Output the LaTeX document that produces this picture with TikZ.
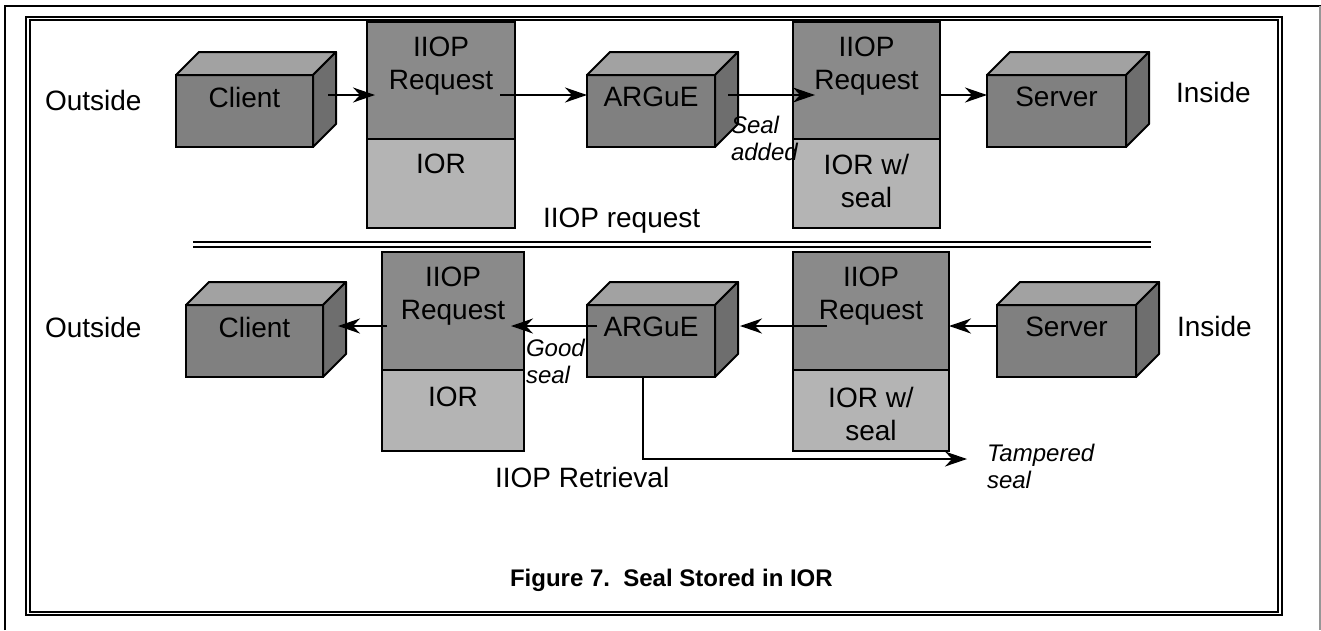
\documentclass[tikz,border=0pt]{standalone}
\usepackage{fontspec}
\setmainfont{Liberation Sans}
\usetikzlibrary{arrows.meta}
\definecolor{facegray}{RGB}{128,128,128}
\definecolor{topgray}{RGB}{162,162,162}
\definecolor{sidegray}{RGB}{110,110,110}
\definecolor{reqgray}{RGB}{138,138,138}
\definecolor{iorgray}{RGB}{180,180,180}
\definecolor{framegray}{RGB}{150,150,150}
\newcommand\cubefaces[1]{%
  \draw[line width=2pt, fill=topgray, line join=round] (#1.north west) -- ([shift={(23,-23)}]#1.north west) -- ([shift={(23,-23)}]#1.north east) -- (#1.north east) -- cycle;
  \draw[line width=2pt, fill=sidegray, line join=round] (#1.north east) -- ([shift={(23,-23)}]#1.north east) -- ([shift={(23,-23)}]#1.south east) -- (#1.south east) -- cycle;
}
\begin{document}
\begin{tikzpicture}[x=1pt,y=-1pt,
  every node/.style={font=\fontsize{28}{33}\selectfont, inner sep=0pt, outer sep=0pt},
  front/.style={draw, line width=2pt, fill=facegray, minimum height=72pt},
  reqbox/.style={draw, line width=2pt, fill=reqgray},
  iorbox/.style={draw, line width=2pt, fill=iorgray},
  cubetext/.style={anchor=north, yshift=-12pt},
  boxtext/.style={anchor=north, yshift=-15pt, align=center},
  arr/.style={line width=1.8pt, -{Stealth[length=22pt,width=15pt,inset=7pt]}},
  lbl/.style={font=\fontsize{24}{27}\selectfont\itshape, align=left, anchor=west},
  side/.style={anchor=base west},
]
\useasboundingbox (0,0) rectangle (1321,630);
% outer frame
\draw[line width=2pt] (5,630) -- (5,6) -- (1321,6);
\draw[framegray, line width=1.5pt] (1320,6) -- (1320,630);
% inner double frame
\draw[line width=1.6pt] (26,17) rectangle (1282,615);
\draw[line width=1.2pt] (30,20) rectangle (1278,612);
% separator
\draw[line width=1.8pt] (193,242) -- (1151,242);
\draw[line width=1.8pt] (193,247) -- (1151,247);

% ---------- top row ----------
\node[side] (out1) at (45,110) {Outside};
\node[side] (in1) at (1176,102) {Inside};
\node[front, minimum width=137pt, label={[cubetext]north:Client}] (c1) at (244.5,111) {};
\cubefaces{c1}
\node[reqbox, minimum width=148pt, minimum height=117pt, label={[boxtext]north:IIOP\\Request}] (req1) at (441,80.5) {};
\node[iorbox, minimum width=148pt, minimum height=89pt, label={[boxtext]north:IOR}] (ior1) at (441,183.5) {};
\node[front, minimum width=128pt, label={[cubetext]north:ARGuE}] (a1) at (651,111) {};
\cubefaces{a1}
\node[reqbox, minimum width=147pt, minimum height=117pt, label={[boxtext]north:IIOP\\Request}] (req2) at (866.5,80.5) {};
\node[iorbox, minimum width=147pt, minimum height=89pt, label={[boxtext]north:IOR w/\\seal}] (ior2) at (866.5,183.5) {};
\node[front, minimum width=139pt, label={[cubetext]north:Server}] (s1) at (1056.5,111) {};
\cubefaces{s1}
\node[lbl] (sealadded) at (731,138) {Seal\\added};
\node[side] (reqlbl) at (543,227) {IIOP request};

\draw[arr] ([shift={(15,-16)}]c1.east) -- ([shift={(8,14.5)}]req1.west);
\draw[arr] ([shift={(-15,14.5)}]req1.east) -- ([shift={(0,-16)}]a1.west);
\draw[arr] ([shift={(13,-16)}]a1.east) -- ([shift={(22,14.5)}]req2.west);
\draw[arr] ([shift={(0,14.5)}]req2.east) -- ([shift={(0,-16)}]s1.west);

% ---------- bottom row ----------
\node[side] (out2) at (45,337) {Outside};
\node[side] (in2) at (1177,336) {Inside};
\node[front, minimum width=137pt, label={[cubetext]north:Client}] (c2) at (254.5,341) {};
\cubefaces{c2}
\node[reqbox, minimum width=142pt, minimum height=118pt, label={[boxtext]north:IIOP\\Request}] (req3) at (453,311) {};
\node[iorbox, minimum width=142pt, minimum height=81pt, label={[boxtext, yshift=-2pt]north:IOR}] (ior3) at (453,410.5) {};
\node[front, minimum width=128pt, label={[cubetext]north:ARGuE}] (a2) at (651,341) {};
\cubefaces{a2}
\node[reqbox, minimum width=156pt, minimum height=118pt, label={[boxtext]north:IIOP\\Request}] (req4) at (871,311) {};
\node[iorbox, minimum width=156pt, minimum height=81pt, label={[boxtext, yshift=-2pt]north:IOR w/\\seal}] (ior4) at (871,410.5) {};
\node[front, minimum width=139pt, label={[cubetext]north:Server}] (s2) at (1066.5,341) {};
\cubefaces{s2}
\node[lbl] (goodseal) at (526,361) {Good\\seal};
\node[lbl] (tampered) at (987,466) {Tampered\\seal};
\node[side] (retlbl) at (495,487) {IIOP Retrieval};

\draw[arr] ([shift={(5,15)}]req3.west) -- ([shift={(15,-15)}]c2.east);
\draw[arr] ([shift={(10,-15)}]a2.west) -- ([shift={(-13,15)}]req3.east);
\draw[arr] ([shift={(34,15)}]req4.west) -- ([shift={(25,-15)}]a2.east);
\draw[arr] ([shift={(1,-15)}]s2.west) -- ([shift={(0,15)}]req4.east);
\coordinate (tampend) at (967,459);
\draw[arr, line width=1.6pt] ([xshift=-8pt]a2.south) |- (tampend);

% caption
\node[side, font=\fontsize{24}{28}\selectfont\bfseries] (caption) at (510,586) {Figure 7.\ \ Seal Stored in IOR};
\end{tikzpicture}
\end{document}
